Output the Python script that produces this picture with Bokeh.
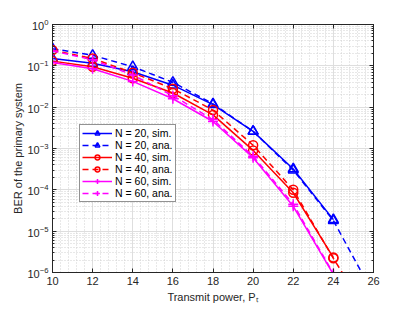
from bokeh.plotting import figure
from bokeh.models import (LinearAxis, LogAxis, FixedTicker, LogTicker, Legend, LegendItem, Range1d)
from bokeh.embed import file_html
from bokeh.resources import INLINE

# ---- data ----
x_sim = [10, 12, 14, 16, 18, 20, 22, 24]
x_ana = [10, 12, 14, 16, 18, 20, 22, 24, 26]

ber_n20_sim = [0.15, 0.115, 0.072, 0.034, 0.0115, 0.0026, 0.00032, 1.9e-5]
ber_n20_ana = [0.26, 0.18, 0.095, 0.040, 0.012, 0.0026, 0.00030, 1.8e-5, 3e-7]
ber_n40_sim = [0.13, 0.095, 0.050, 0.022, 0.0065, 0.0009, 8.5e-5, 2.3e-6]
ber_n40_ana = [0.24, 0.15, 0.068, 0.028, 0.0085, 0.0012, 1.0e-4, 2.2e-6, 6e-8]
ber_n60_sim = [0.12, 0.085, 0.042, 0.016, 0.0045, 0.0006, 4.0e-5, 9e-7]
ber_n60_ana = [0.23, 0.14, 0.060, 0.019, 0.0050, 0.00065, 4.5e-5, 9.5e-7, 1e-8]

labels = ["N = 20, sim.", "N = 20, ana.", "N = 40, sim.", "N = 40, ana.",
          "N = 60, sim.", "N = 60, ana."]

x_ticks = [10, 12, 14, 16, 18, 20, 22, 24, 26]

FONT = "Liberation Sans"

p = figure(width=401, height=305, y_axis_type="log",
           x_range=Range1d(10, 26), y_range=Range1d(1e-6, 1),
           output_backend="svg", toolbar_location=None,
           min_border_left=52, min_border_top=24, min_border_right=28, min_border_bottom=31)
p.background_fill_color = "white"
p.border_fill_color = "white"
p.outline_line_color = "#262626"
p.outline_line_width = 1

# axes
xa = p.xaxis[0]
xa.ticker = FixedTicker(ticks=x_ticks, minor_ticks=[10 + 0.4 * i for i in range(41)])
ya = p.yaxis[0]
ya.ticker = LogTicker(num_minor_ticks=10)
for ax in (xa, ya):
    ax.major_tick_in = 4
    ax.major_tick_out = 0
    ax.minor_tick_in = 2 if ax is ya else 0
    ax.minor_tick_out = 0
    ax.axis_line_color = "#262626"
    ax.major_tick_line_color = "#262626"
    ax.minor_tick_line_color = "#262626"
    ax.major_label_text_font = FONT
    ax.major_label_text_font_size = "11px"
    ax.major_label_text_color = "#262626"
    ax.axis_label_text_font = FONT
    ax.axis_label_text_font_size = "11px"
    ax.axis_label_text_font_style = "normal"
    ax.axis_label_text_color = "#262626"
xa.axis_label = "Transmit power, P\u209c"
ya.axis_label = "BER of the primary system"
xa.major_label_standoff = 4
xa.axis_label_standoff = 3
ya.major_label_standoff = 4
ya.axis_label_standoff = 0

# grid
p.xgrid.grid_line_color = "#dedede"
p.ygrid.grid_line_color = "#dedede"
p.xgrid.minor_grid_line_color = "#d0d0d0"
p.ygrid.minor_grid_line_color = "#d0d0d0"
p.xgrid.minor_grid_line_dash = "1 2"
p.ygrid.minor_grid_line_dash = "1 2"
p.xgrid.ticker = xa.ticker
p.ygrid.ticker = ya.ticker

# top / right tick axes (labels hidden)
top = LinearAxis(ticker=FixedTicker(ticks=x_ticks), major_label_text_font_size="1px",
                 major_label_text_alpha=0, major_label_standoff=0,
                 major_tick_in=4, major_tick_out=0, minor_tick_out=0, minor_tick_in=0,
                 axis_line_color="#262626", major_tick_line_color="#262626")
right = LogAxis(ticker=LogTicker(num_minor_ticks=10), major_label_text_font_size="1px",
                major_label_text_alpha=0, major_label_standoff=0,
                major_tick_in=4, major_tick_out=0, minor_tick_out=0, minor_tick_in=2,
                axis_line_color="#262626", major_tick_line_color="#262626",
                minor_tick_line_color="#262626")
p.add_layout(top, "above")
p.add_layout(right, "right")

series = [
    (x_sim, ber_n20_sim, "blue", "solid", "triangle"),
    (x_ana, ber_n20_ana, "blue", "6 4", "triangle"),
    (x_sim, ber_n40_sim, "red", "solid", "circle"),
    (x_ana, ber_n40_ana, "red", "6 4", "circle"),
    (x_sim, ber_n60_sim, "magenta", "solid", "cross"),
    (x_ana, ber_n60_ana, "magenta", "6 4", "cross"),
]

items = []
for (xs, ys, col, dash, mk), lab in zip(series, labels):
    r1 = p.line(xs, ys, line_color=col, line_width=1.5, line_dash=dash)
    mx = [a for a in xs if a <= 24]
    my = ys[:len(mx)]
    size = 10 if mk != "circle" else 9
    r2 = p.scatter(mx, my, marker=mk, size=size, line_color=col, fill_color=None, line_width=1.5)
    items.append(LegendItem(label=lab, renderers=[r1, r2]))

legend = Legend(items=items, location=(27, 70))
legend.label_text_font = FONT
legend.label_text_font_size = "10.5px"
legend.label_text_color = "black"
legend.glyph_width = 30
legend.glyph_height = 12
legend.label_height = 12
legend.spacing = 0
legend.padding = 2
legend.margin = 0
legend.label_standoff = 3
legend.border_line_color = "#262626"
legend.border_line_width = 1
legend.background_fill_alpha = 1
p.add_layout(legend, "center")

open("out.html", "w").write(file_html(p, INLINE))
